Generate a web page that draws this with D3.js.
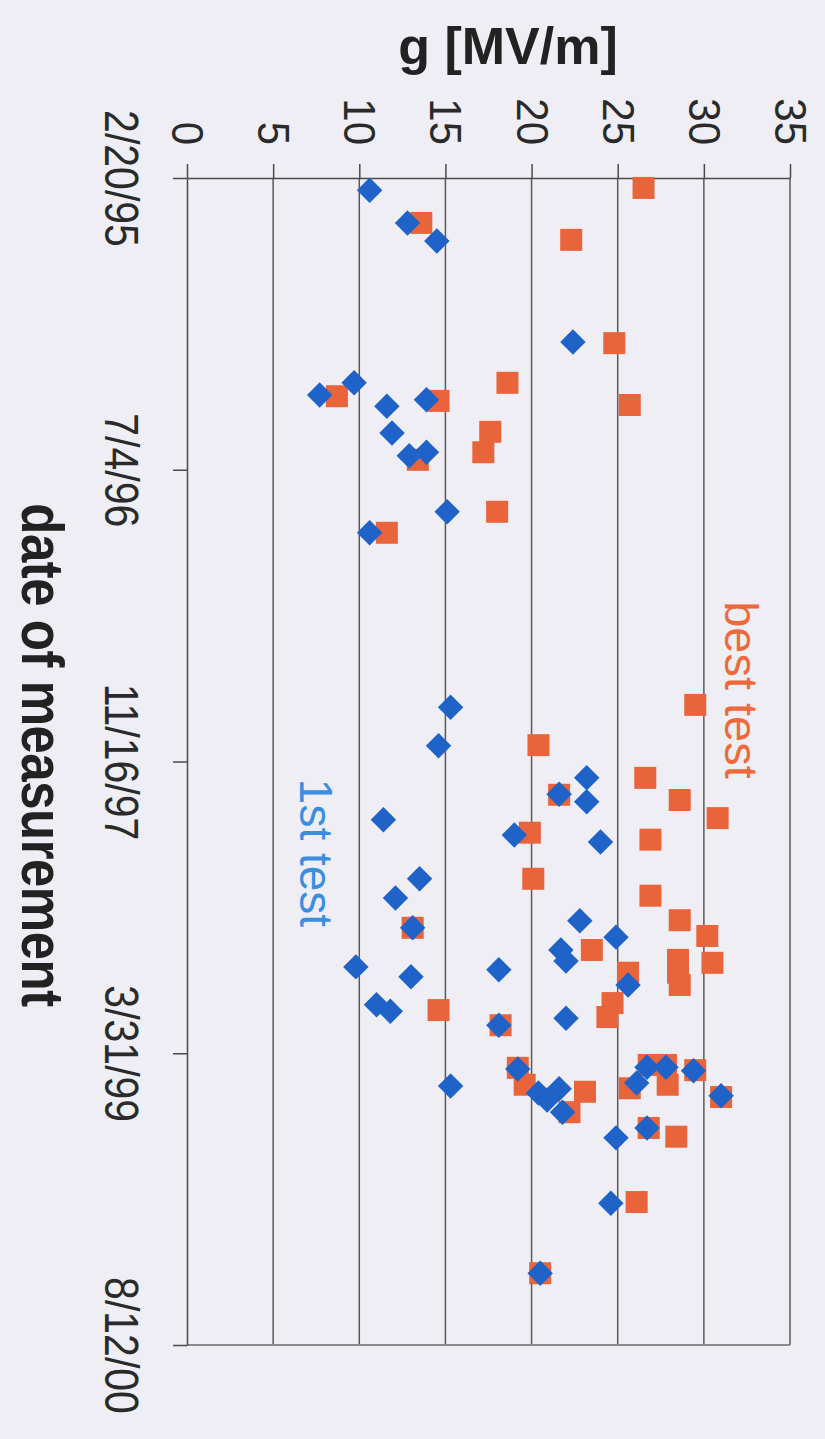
<!DOCTYPE html>
<html lang="en">
<head>
<meta charset="UTF-8">
<title>g vs date of measurement</title>
<style>
  body { margin: 0; background: #eeeef4; }
  svg { display: block; }
  .axis text { font-family: "Liberation Sans", Arial, sans-serif; fill: #2a2a2a; }
</style>
</head>
<body>
<script src="https://d3js.org/d3.v7.min.js"></script>
<script>
// 1st test (blue diamonds)
var firstDates = ["1995-03-13", "1995-05-08", "1995-06-08", "1995-11-28", "1996-02-06", "1996-02-27", "1996-03-06", "1996-03-17", "1996-05-02", "1996-06-04",
  "1996-06-10", "1996-09-14", "1996-10-20", "1997-08-15", "1997-10-20", "1997-12-14", "1998-01-11", "1998-01-24", "1998-02-24", "1998-03-22",
  "1998-04-03", "1998-06-05", "1998-07-08", "1998-08-16", "1998-08-28", "1998-09-13", "1998-10-05", "1998-10-24", "1998-11-03", "1998-11-08",
  "1998-11-20", "1998-12-04", "1999-01-07", "1999-01-18", "1999-01-30", "1999-02-11", "1999-04-24", "1999-04-24", "1999-04-27", "1999-04-30",
  "1999-05-21", "1999-05-26", "1999-05-31", "1999-06-07", "1999-06-12", "1999-06-19", "1999-07-10", "1999-08-06", "1999-08-23", "1999-12-13",
  "2000-04-11"];
var firstVals = [10.6, 12.8, 14.5, 22.4, 9.7, 7.7, 13.9, 11.6, 11.9, 13.9,
  12.9, 15.1, 10.6, 15.3, 14.6, 23.2, 21.6, 23.2, 11.4, 19.0,
  24.0, 13.5, 12.1, 22.8, 13.1, 24.9, 21.7, 22.0, 9.8, 18.1,
  13.0, 25.6, 11.0, 11.8, 22.0, 18.1, 26.7, 27.8, 19.2, 29.4,
  26.1, 15.3, 21.6, 20.4, 31.0, 20.9, 21.8, 26.7, 24.9, 24.6,
  20.5];

// best test (orange squares)
var bestDates = ["1995-03-09", "1995-05-08", "1995-06-06", "1995-11-30", "1996-02-06", "1996-02-29", "1996-03-08", "1996-03-15", "1996-04-30", "1996-06-04",
  "1996-06-17", "1996-09-14", "1996-10-20", "1997-08-11", "1997-10-19", "1997-12-14", "1998-01-12", "1998-01-21", "1998-02-21", "1998-03-18",
  "1998-03-30", "1998-06-05", "1998-07-04", "1998-08-28", "1998-08-15", "1998-09-11", "1998-10-05", "1998-10-22", "1998-10-27", "1998-11-13",
  "1998-11-13", "1998-12-04", "1999-01-04", "1999-01-16", "1999-01-28", "1999-02-11", "1999-04-20", "1999-04-20", "1999-04-25", "1999-04-29",
  "1999-05-24", "1999-05-24", "1999-05-30", "1999-06-05", "1999-06-14", "1999-07-10", "1999-08-06", "1999-08-21", "1999-12-11", "2000-04-11"];
var bestVals = [26.5, 13.6, 22.3, 24.8, 18.6, 8.7, 14.6, 25.7, 17.6, 17.2,
  13.4, 18.0, 11.6, 29.5, 20.4, 26.6, 21.6, 28.6, 30.8, 19.9,
  26.9, 20.1, 26.9, 13.1, 28.6, 30.2, 23.5, 28.5, 30.5, 28.5,
  25.6, 28.6, 24.7, 14.6, 24.4, 18.2, 26.8, 27.8, 19.2, 29.5,
  19.6, 27.9, 25.7, 23.1, 31.0, 22.2, 26.8, 28.4, 26.1, 20.5];

var gTicks = [0, 5, 10, 15, 20, 25, 30, 35];
var dateTicks = ["1995-02-20", "1996-07-04", "1997-11-16", "1999-03-31", "2000-08-12"];

var parseDate = d3.timeParse("%Y-%m-%d");
var fmtDate = d3.timeFormat("%-m/%-d/%y");

var W = 825, H = 1439;
// plot box (top/left are window globals, so prefixed)
var pLeft = 187, pRight = 790, pTop = 178, pBottom = 1345;

var svg = d3.select("body").append("svg")
  .attr("width", W)
  .attr("height", H);

// value runs left->right, date runs top->bottom (chart is turned on its side)
var xscale = d3.scaleLinear().domain([0, 35]).range([pLeft, pRight]);
var yscale = d3.scaleTime()
  .domain([parseDate(dateTicks[0]), parseDate(dateTicks[dateTicks.length - 1])])
  .range([pTop, pBottom]);

// gridlines
svg.append("g")
  .selectAll("line")
  .data(gTicks.slice(1))
  .enter()
  .append("line")
  .attr("x1", function(d) { return xscale(d); })
  .attr("x2", function(d) { return xscale(d); })
  .attr("y1", pTop)
  .attr("y2", pBottom)
  .attr("stroke", "#5a5a5a")
  .attr("stroke-width", 1.5);

svg.append("line")
  .attr("x1", pLeft).attr("x2", pRight)
  .attr("y1", pBottom).attr("y2", pBottom)
  .attr("stroke", "#8a8a8a")
  .attr("stroke-width", 2);

var gAxis = d3.axisTop(xscale)
  .tickValues(gTicks)
  .tickSize(14)
  .tickSizeOuter(0);

svg.append("g")
  .attr("class", "axis")
  .attr("transform", "translate(0," + pTop + ")")
  .call(gAxis)
  .call(function(g) { g.selectAll("line, path").attr("stroke", "#4a4a4a").attr("stroke-width", 1.5); })
  .selectAll("text")
  .attr("x", 0).attr("y", 0)
  .attr("dy", "0.35em")
  .attr("font-size", 42)
  .style("text-anchor", "end")
  .attr("transform", "translate(0,-33) scale(1.05,1) rotate(90)");

var dAxis = d3.axisLeft(yscale)
  .tickValues(dateTicks.map(parseDate))
  .tickFormat(fmtDate)
  .tickSize(14)
  .tickSizeOuter(0);

svg.append("g")
  .attr("class", "axis")
  .attr("transform", "translate(" + pLeft + ",0)")
  .call(dAxis)
  .call(function(g) { g.selectAll("line, path").attr("stroke", "#4a4a4a").attr("stroke-width", 1.5); })
  .selectAll("text")
  .attr("x", 0).attr("y", 0)
  .attr("dy", "0.35em")
  .attr("font-size", 41)
  .style("text-anchor", "middle")
  .attr("transform", "translate(-65,0) scale(1.15,1) rotate(90)");

// best test first so the diamonds sit on top
var bestData = bestDates.map(function(d, i) { return {date: parseDate(d), g: bestVals[i]}; });
var firstData = firstDates.map(function(d, i) { return {date: parseDate(d), g: firstVals[i]}; });

svg.append("g")
  .selectAll("path")
  .data(bestData)
  .enter()
  .append("path")
  .attr("d", d3.symbol().type(d3.symbolSquare).size(22 * 22))
  .attr("transform", function(d) { return "translate(" + xscale(d.g) + "," + yscale(d.date) + ")"; })
  .attr("fill", "#e9643b");

svg.append("g")
  .selectAll("path")
  .data(firstData)
  .enter()
  .append("path")
  .attr("d", d3.symbol().type(d3.symbolSquare).size(18 * 18))
  .attr("transform", function(d) { return "translate(" + xscale(d.g) + "," + yscale(d.date) + ") rotate(45)"; })
  .attr("fill", "#1f62c8");

// titles and series labels
svg.append("text")
  .attr("x", 508).attr("y", 64)
  .attr("text-anchor", "middle")
  .attr("font-family", "Liberation Sans, Arial, sans-serif")
  .attr("font-weight", "bold")
  .attr("font-size", 52)
  .attr("fill", "#222")
  .text("g [MV/m]");

svg.append("text")
  .attr("transform", "translate(43,755) scale(1.15,1) rotate(90)")
  .attr("dy", "0.35em")
  .attr("text-anchor", "middle")
  .attr("font-family", "Liberation Sans, Arial, sans-serif")
  .attr("font-weight", "bold")
  .attr("font-size", 51)
  .attr("letter-spacing", -0.5)
  .attr("fill", "#222")
  .text("date of measurement");

svg.append("text")
  .attr("transform", "translate(316,853) rotate(90)")
  .attr("dy", "0.35em")
  .attr("text-anchor", "middle")
  .attr("font-family", "Liberation Sans, Arial, sans-serif")
  .attr("font-size", 46)
  .attr("fill", "#3a8de0")
  .text("1st test");

svg.append("text")
  .attr("transform", "translate(741,690) rotate(90)")
  .attr("dy", "0.35em")
  .attr("text-anchor", "middle")
  .attr("font-family", "Liberation Sans, Arial, sans-serif")
  .attr("font-size", 47)
  .attr("fill", "#ee6a3c")
  .text("best test");
</script>
</body>
</html>
